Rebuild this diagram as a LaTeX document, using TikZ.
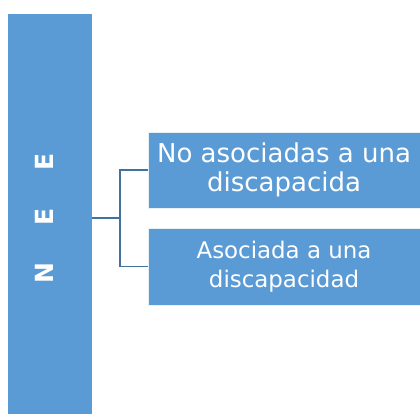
\documentclass[tikz,border=0pt]{standalone}
\usepackage{fontspec}
\setmainfont{DejaVu Sans}
\usetikzlibrary{positioning}
\definecolor{neefill}{HTML}{5B9BD5}
\definecolor{neeline}{HTML}{41719C}
\begin{document}
\begin{tikzpicture}[x=1pt,y=-1pt]
    \tikzset{bar/.style={fill=neefill, draw=none, inner sep=0pt, outer sep=0pt},
             item/.style={fill=neefill, draw=white!85!neefill, line width=0.6pt, inner sep=0pt, outer sep=0pt,
                          minimum width=272pt, minimum height=76pt, text=white, align=center},
             link/.style={draw=neeline, line width=1.2pt}}
    \useasboundingbox (0,0) rectangle (420,414);
    \node [bar, minimum width=84pt, minimum height=400pt] (nee) at (50,214) {};
    \node [text=white, rotate=90, inner sep=0pt, font=\bfseries\fontsize{25}{25}\selectfont] (neetext) at (44,218.5) {N\hspace{37pt}E\hspace{38pt}E};
    \node [item, font=\fontsize{26}{29}\selectfont] (noasoc) at (284,170) {No asociadas a una\\discapacida};
    \node [item, minimum height=77pt, font=\fontsize{22.9}{29}\selectfont] (asoc) at (284,266.5) {Asociada a una\\discapacidad};
    \coordinate (fork) at (120,218);
    \draw [link] (fork -| nee.east) -- (fork);
    \draw [link] (noasoc.west) -| (fork) |- (asoc.west);
\end{tikzpicture}
\end{document}
